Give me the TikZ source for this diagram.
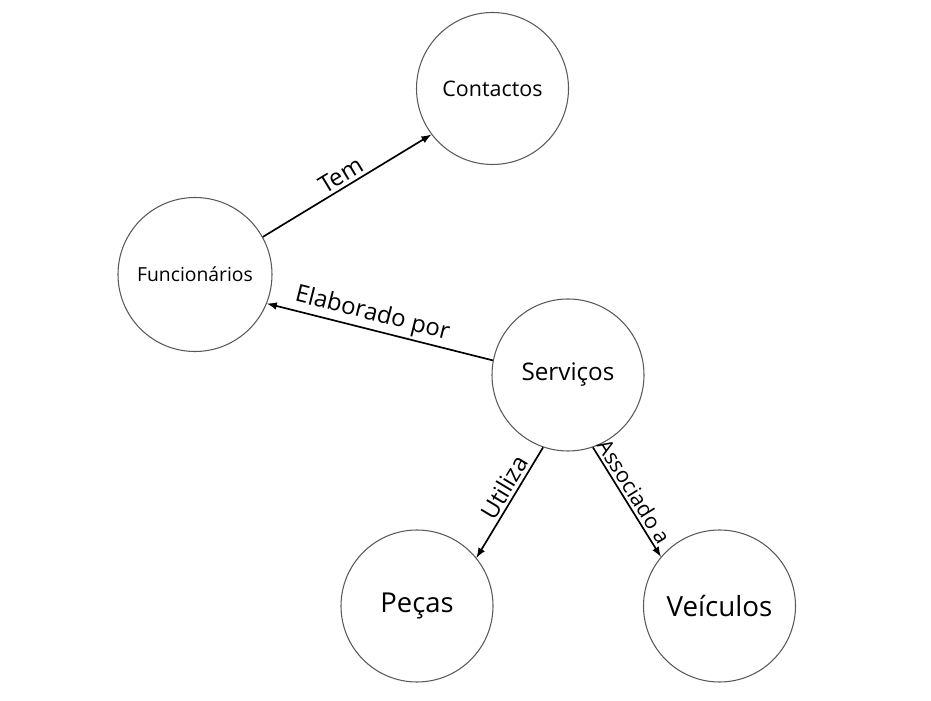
\documentclass[tikz,border=0pt]{standalone}
\usepackage{fontspec}
\setmainfont{Open Sans}
\usepackage{tikz}

\begin{document}
\begin{tikzpicture}[
  ent/.style={circle,draw=black!65,line width=0.6pt,minimum size=3.04cm,inner sep=0pt},
  rel/.style={-latex,line width=0.95pt},
  lbl/.style={font=\fontsize{13.6}{15}\selectfont,sloped,above,inner sep=1.5pt}]
  \useasboundingbox (0,0) rectangle (18.62,14);
  % entidades
  \node[ent,font=\fontsize{12.2}{14}\selectfont] (contactos) at (9.85,12.23) {Contactos};
  \node[ent,minimum size=3.08cm,font=\fontsize{11}{13}\selectfont] (funcionarios) at (3.90,8.51) {Funcionários};
  \node[ent,font=\fontsize{13.8}{15}\selectfont] (servicos) at (11.36,6.50) {Serviços};
  \node[ent,font=\fontsize{15.6}{17}\selectfont] (pecas) at (8.34,1.88) {Peças};
  \node[ent,font=\fontsize{15.8}{17}\selectfont] (veiculos) at (14.39,1.88) {Veículos};

  % relacoes
  \draw[rel] (funcionarios.29.5) -- node[lbl,pos=0.5] {Tem} (contactos.217);
  \draw[rel] (servicos.169) -- node[lbl,pos=0.55] {Elaborado por} (funcionarios.-22.7);
  \draw[rel] (servicos.251) -- node[lbl,pos=0.42] {Utiliza} (pecas.39);
  \draw[rel] (servicos.-71) -- node[lbl,pos=0.46,font=\fontsize{12.2}{14}\selectfont] {Associado a} (veiculos.140.5);
\end{tikzpicture}
\end{document}
